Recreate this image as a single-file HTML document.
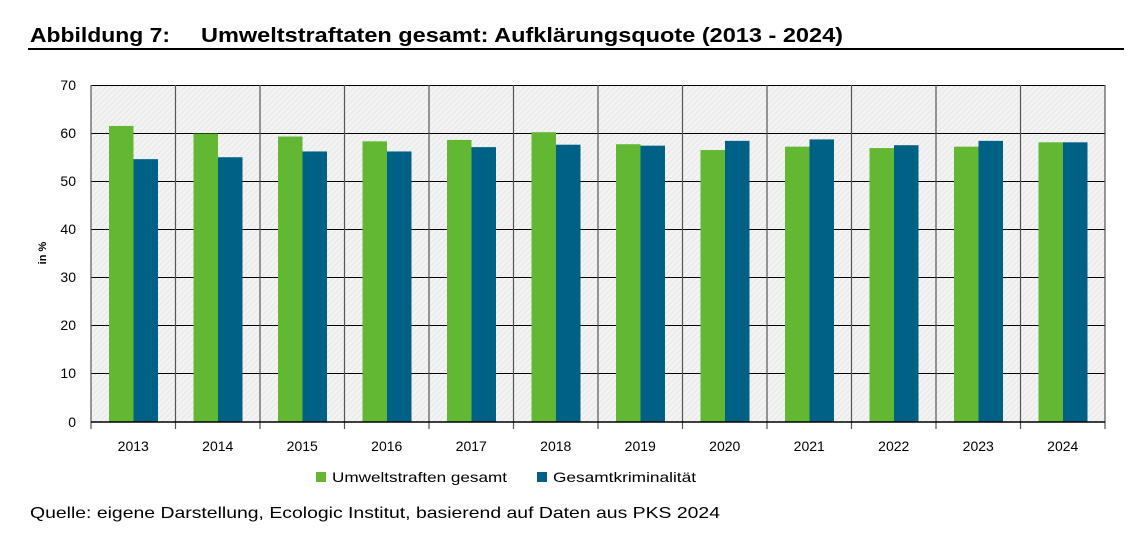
<!DOCTYPE html>
<html><head><meta charset="utf-8"><style>
html,body{margin:0;padding:0;background:#fff;}
svg{display:block;font-family:"Liberation Sans",sans-serif;}
</style></head><body>
<svg width="1146" height="536" viewBox="0 0 1146 536" xmlns="http://www.w3.org/2000/svg">
<defs>
<pattern id="h" width="4" height="4" patternUnits="userSpaceOnUse" patternTransform="rotate(45)">
<rect width="4" height="4" fill="#f3f3f3"/><rect width="1" height="4" fill="#e6e6e6"/>
</pattern>
</defs>
<text x="30" y="42" font-size="20" font-weight="bold" fill="#000" textLength="140" lengthAdjust="spacingAndGlyphs">Abbildung 7:</text>
<text x="201" y="42" font-size="20" font-weight="bold" fill="#000" textLength="642" lengthAdjust="spacingAndGlyphs">Umweltstraftaten gesamt: Aufklärungsquote (2013 - 2024)</text>
<rect x="28" y="48" width="1096" height="2" fill="#000"/>
<rect x="91" y="85" width="1014" height="337" fill="url(#h)"/>
<g stroke="#000" stroke-width="1">
<line x1="91" y1="85.5" x2="1105" y2="85.5"/>
<line x1="91" y1="133.5" x2="1105" y2="133.5"/>
<line x1="91" y1="181.5" x2="1105" y2="181.5"/>
<line x1="91" y1="229.5" x2="1105" y2="229.5"/>
<line x1="91" y1="277.5" x2="1105" y2="277.5"/>
<line x1="91" y1="325.5" x2="1105" y2="325.5"/>
<line x1="91" y1="373.5" x2="1105" y2="373.5"/>
</g>
<g id="bars"></g>
<g stroke="#555" stroke-width="1.2" id="vl"></g>
<line x1="91" y1="422" x2="1105" y2="422" stroke="#000" stroke-width="1.5"/>
<g font-size="14" fill="#000" text-anchor="end">
<text x="76" y="90">70</text><text x="76" y="138">60</text><text x="76" y="186">50</text><text x="76" y="234">40</text><text x="76" y="282">30</text><text x="76" y="330">20</text><text x="76" y="378">10</text><text x="76" y="427">0</text>
</g>
<text transform="translate(46,253) rotate(-90)" font-size="11" font-weight="bold" text-anchor="middle">in %</text>
<g font-size="14" text-anchor="middle" id="xl"></g>
<rect x="316" y="472" width="10" height="10" fill="#62b832"/>
<text x="332" y="482" font-size="14" textLength="175" lengthAdjust="spacingAndGlyphs">Umweltstraften gesamt</text>
<rect x="537" y="472" width="10" height="10" fill="#006186"/>
<text x="553" y="482" font-size="14" textLength="143" lengthAdjust="spacingAndGlyphs">Gesamtkriminalität</text>
<text x="30" y="518" font-size="16" textLength="690" lengthAdjust="spacingAndGlyphs">Quelle: eigene Darstellung, Ecologic Institut, basierend auf Daten aus PKS 2024</text>
<script>
var g=[61.5,59.9,59.3,58.3,58.6,60.2,57.7,56.5,57.2,56.9,57.2,58.1];
var b=[54.6,55.0,56.2,56.2,57.1,57.6,57.4,58.4,58.7,57.5,58.4,58.1];
var ns="http://www.w3.org/2000/svg",w=84.5,s=4.814;
function el(p,t,a,tx){var e=document.createElementNS(ns,t);for(var k in a)e.setAttribute(k,a[k]);if(tx)e.textContent=tx;document.getElementById(p).appendChild(e);}
for(var i=0;i<12;i++){var x=91+i*w;
el("bars","rect",{x:x+18,y:422-g[i]*s,width:24.5,height:g[i]*s,fill:"#62b832"});
el("bars","rect",{x:x+42.5,y:422-b[i]*s,width:24.5,height:b[i]*s,fill:"#006186"});
el("vl","line",{x1:x,y1:85,x2:x,y2:429});
el("xl","text",{x:x+w/2,y:451},""+(2013+i));}
el("vl","line",{x1:1105,y1:85,x2:1105,y2:429});
</script>
</svg>
</body></html>
